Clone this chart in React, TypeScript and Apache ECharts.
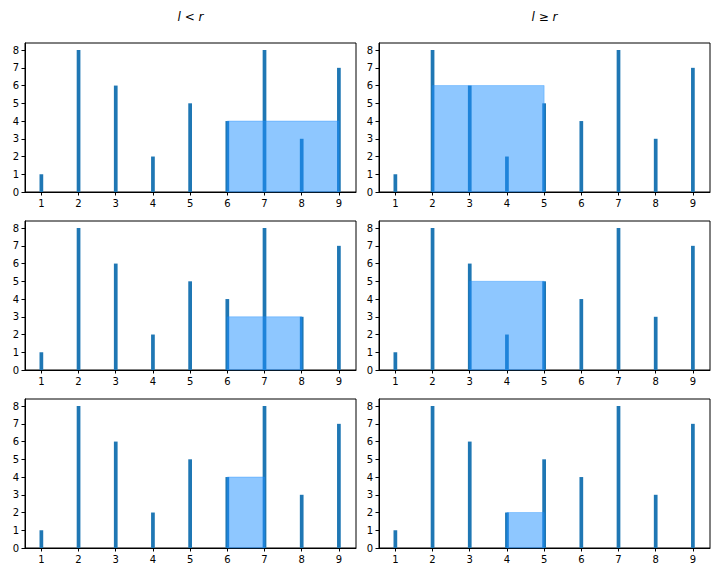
import React, { useEffect, useRef } from "react";
import * as echarts from "echarts";

const xValues = [1, 2, 3, 4, 5, 6, 7, 8, 9];
const heights = [1, 8, 6, 2, 5, 4, 8, 3, 7];
const yTicks = [0, 1, 2, 3, 4, 5, 6, 7, 8];
// [left, right, height] of the highlighted span per row
const leftRanges = [
  [6, 9, 4],
  [6, 8, 3],
  [6, 7, 4],
];
const rightRanges = [
  [2, 5, 6],
  [3, 5, 5],
  [4, 5, 2],
];
const columnTitles = ["{i|l} < {i|r}", "{i|l} ≥ {i|r}"];

const COL_LEFT = [25, 379];
const COL_WIDTH = 331;
const ROW_TOP = [43, 221, 399];
const ROW_HEIGHT = 149;
const X_MIN = 0.56;
const X_MAX = 9.46;
const Y_MAX = 8.4;
const BAR_HALF = 0.05;
const FONT = "DejaVu Sans";

export default function App() {
  const ref = useRef<HTMLDivElement>(null);
  useEffect(() => {
    if (!ref.current) return;
    const chart = echarts.init(ref.current, undefined, { renderer: "svg" });
    const grids: any[] = [];
    const xAxes: any[] = [];
    const yAxes: any[] = [];
    const series: any[] = [];
    const barData = xValues.map((x, i) => [x, heights[i]]);
    let idx = 0;
    for (let r = 0; r < 3; r++) {
      for (let c = 0; c < 2; c++) {
        grids.push({
          left: COL_LEFT[c],
          top: ROW_TOP[r],
          width: COL_WIDTH,
          height: ROW_HEIGHT,
          show: true,
          borderColor: "#000",
          borderWidth: 1,
          backgroundColor: "transparent",
        });
        xAxes.push({
          type: "value",
          gridIndex: idx,
          min: X_MIN,
          max: X_MAX,
          splitLine: { show: false },
          axisLine: { show: true, lineStyle: { color: "#000", width: 1 } },
          axisTick: {
            show: true,
            length: 3.5,
            lineStyle: { color: "#000" },
            customValues: xValues,
          },
          axisLabel: {
            color: "#000",
            fontFamily: FONT,
            fontSize: 10,
            margin: 6,
            customValues: xValues,
          },
        });
        yAxes.push({
          type: "value",
          gridIndex: idx,
          min: 0,
          max: Y_MAX,
          splitLine: { show: false },
          axisLine: { show: true, lineStyle: { color: "#000", width: 1 } },
          axisTick: {
            show: true,
            length: 3.5,
            lineStyle: { color: "#000" },
            customValues: yTicks,
          },
          axisLabel: {
            color: "#000",
            fontFamily: FONT,
            fontSize: 10,
            margin: 6,
            customValues: yTicks,
          },
        });
        series.push({
          type: "custom",
          xAxisIndex: idx,
          yAxisIndex: idx,
          z: 2,
          data: barData,
          renderItem: (params: any, api: any) => {
            const x = api.value(0);
            const h = api.value(1);
            const p0 = api.coord([x - BAR_HALF, h]);
            const p1 = api.coord([x + BAR_HALF, 0]);
            return {
              type: "rect",
              shape: { x: p0[0], y: p0[1], width: p1[0] - p0[0], height: p1[1] - p0[1] },
              style: { fill: "#1f77b4" },
            };
          },
        });
        const range = c === 0 ? leftRanges[r] : rightRanges[r];
        series.push({
          type: "custom",
          xAxisIndex: idx,
          yAxisIndex: idx,
          z: 3,
          data: [range],
          renderItem: (params: any, api: any) => {
            const l = api.value(0);
            const rr = api.value(1);
            const h = api.value(2);
            const p0 = api.coord([l, h]);
            const p1 = api.coord([rr, 0]);
            return {
              type: "rect",
              shape: { x: p0[0], y: p0[1], width: p1[0] - p0[0], height: p1[1] - p0[1] },
              style: {
                fill: "rgba(30,144,255,0.5)",
                stroke: "rgba(30,144,255,0.35)",
                lineWidth: 1,
              },
            };
          },
        });
        idx++;
      }
    }
    chart.setOption({
      animation: false,
      backgroundColor: "#fff",
      grid: grids,
      xAxis: xAxes,
      yAxis: yAxes,
      series,
      graphic: columnTitles.map((t, c) => ({
        type: "text",
        x: COL_LEFT[c] + COL_WIDTH / 2,
        y: 17,
        style: {
          text: t,
          align: "center",
          verticalAlign: "middle",
          fontFamily: FONT,
          fontSize: 12,
          fill: "#000",
          rich: {
            i: { fontFamily: FONT, fontStyle: "italic", fontSize: 12, fill: "#000" },
          },
        },
      })),
    });
    return () => chart.dispose();
  }, []);
  return <div ref={ref} style={{ width: 720, height: 576, margin: -8 }} />;
}
